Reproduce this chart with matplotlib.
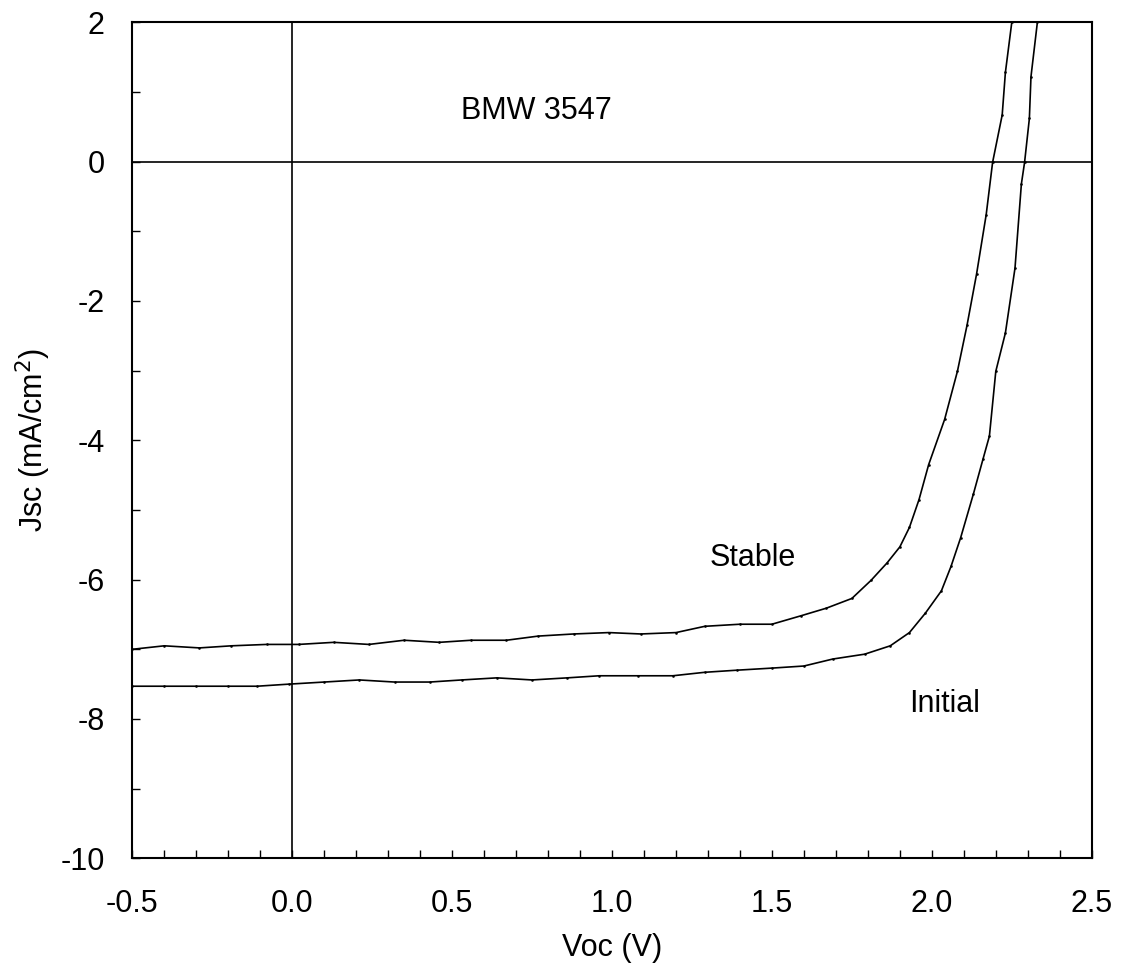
import matplotlib
matplotlib.use("Agg")
import matplotlib.pyplot as plt
from matplotlib.ticker import MultipleLocator, FormatStrFormatter

plt.rcParams['font.family'] = ['Liberation Sans', 'DejaVu Sans']
plt.rcParams['axes.unicode_minus'] = False

# Stable J-V curve
stable_v = [-0.50, -0.40, -0.29, -0.19, -0.08, 0.02, 0.13, 0.24, 0.35, 0.46,
            0.56, 0.67, 0.77, 0.88, 0.99, 1.09, 1.20, 1.29, 1.40, 1.50,
            1.59, 1.67, 1.75, 1.81, 1.86, 1.90, 1.93, 1.96, 1.99, 2.04,
            2.08, 2.11, 2.14, 2.17, 2.19, 2.22, 2.23, 2.25]
stable_j = [-7.00, -6.95, -6.98, -6.95, -6.93, -6.93, -6.90, -6.93, -6.87, -6.90,
            -6.87, -6.87, -6.81, -6.78, -6.76, -6.78, -6.76, -6.67, -6.64, -6.64,
            -6.52, -6.41, -6.27, -6.01, -5.76, -5.53, -5.25, -4.85, -4.35, -3.70,
            -3.01, -2.35, -1.61, -0.76, -0.01, 0.67, 1.28, 2.00]

# Initial J-V curve
initial_v = [-0.50, -0.40, -0.30, -0.20, -0.11, -0.01, 0.10, 0.21, 0.32, 0.43,
             0.53, 0.64, 0.75, 0.86, 0.96, 1.08, 1.19, 1.29, 1.39, 1.50,
             1.60, 1.69, 1.79, 1.87, 1.93, 1.98, 2.03, 2.06, 2.09, 2.13,
             2.16, 2.18, 2.20, 2.23, 2.26, 2.28, 2.29, 2.305, 2.31, 2.33]
initial_j = [-7.53, -7.53, -7.53, -7.53, -7.53, -7.50, -7.47, -7.44, -7.47, -7.47,
             -7.44, -7.41, -7.44, -7.41, -7.38, -7.38, -7.38, -7.33, -7.30, -7.27,
             -7.24, -7.14, -7.07, -6.95, -6.76, -6.48, -6.16, -5.81, -5.40, -4.77,
             -4.27, -3.94, -3.01, -2.46, -1.53, -0.32, -0.01, 0.62, 1.22, 2.00]

fig = plt.figure(figsize=(11.21, 9.75), dpi=100)
ax = fig.add_axes([0.118, 0.1197, 0.8559, 0.8574])

ax.plot(stable_v, stable_j, color='black', lw=1.2, marker='s', ms=0.8)
ax.plot(initial_v, initial_j, color='black', lw=1.2, marker='s', ms=0.8)

ax.axhline(0, color='black', lw=1.2)
ax.axvline(0, color='black', lw=1.2)

ax.set_xlim(-0.5, 2.5)
ax.set_ylim(-10, 2)

ax.xaxis.set_major_locator(MultipleLocator(0.5))
ax.xaxis.set_minor_locator(MultipleLocator(0.1))
ax.yaxis.set_major_locator(MultipleLocator(2))
ax.yaxis.set_minor_locator(MultipleLocator(1))
ax.xaxis.set_major_formatter(FormatStrFormatter('%.1f'))

ax.tick_params(which='both', direction='in', length=6, width=1,
               top=False, right=False, labelsize=22)
ax.tick_params(axis='x', which='major', pad=22)
ax.tick_params(axis='y', which='major', pad=20)

for s in ax.spines.values():
    s.set_linewidth(1.5)

ax.set_xlabel('Voc (V)', fontsize=22, labelpad=10)
ax.set_ylabel('Jsc (mA/cm$^2$)', fontsize=22, labelpad=5)

ax.text(0.765, 0.72, 'BMW 3547', fontsize=22, ha='center', va='center')
ax.text(1.44, -5.69, 'Stable', fontsize=22, ha='center', va='center')
ax.text(2.04, -7.79, 'Initial', fontsize=22, ha='center', va='center')

fig.savefig('out.png', dpi=100)
